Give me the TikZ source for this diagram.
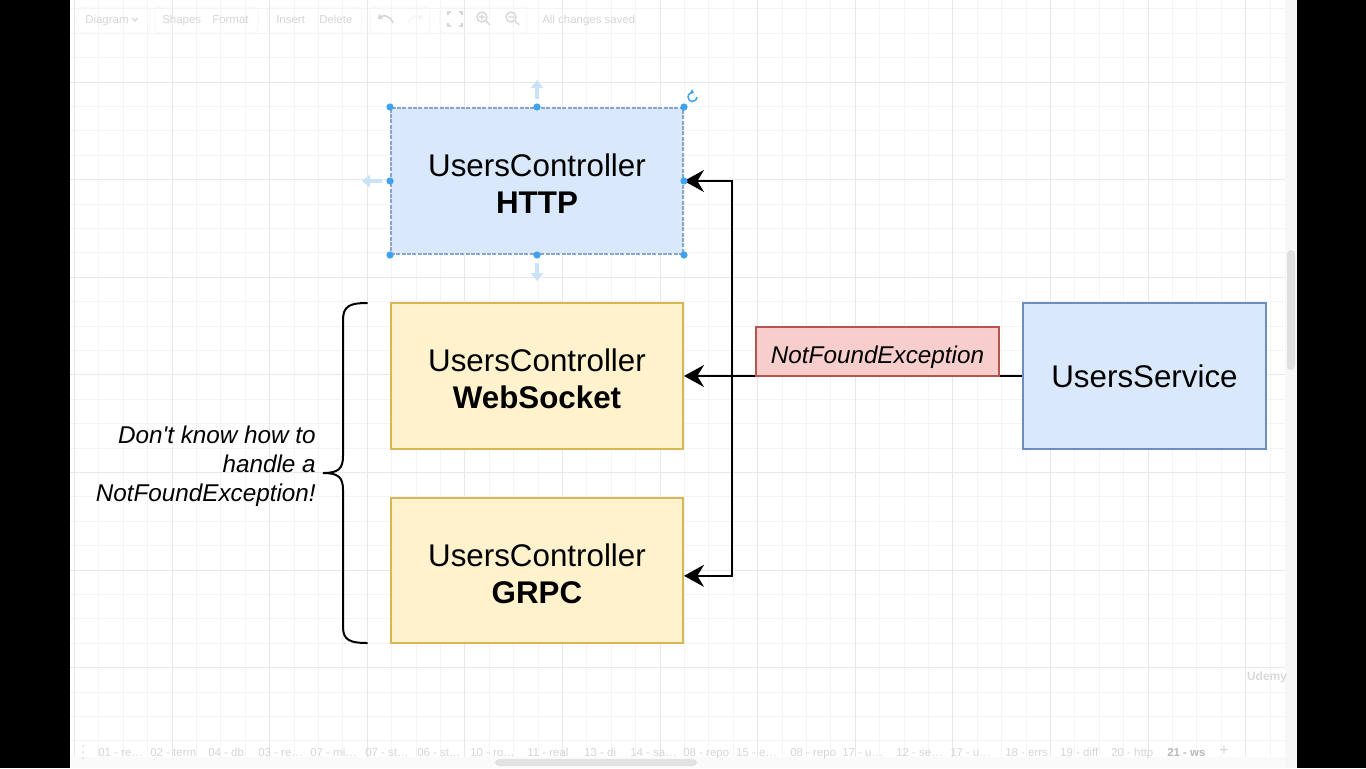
\documentclass[tikz,border=0pt]{standalone}
\usepackage{fontspec}
\setmainfont{Liberation Sans}
\usetikzlibrary{arrows.meta,calc}
\definecolor{blueF}{HTML}{DAE8FC}
\definecolor{blueD}{HTML}{6C8EBF}
\definecolor{yellowF}{HTML}{FFF2CC}
\definecolor{yellowD}{HTML}{D6B656}
\definecolor{redF}{HTML}{F8CECC}
\definecolor{redD}{HTML}{B85450}
\definecolor{selblue}{HTML}{3FA2EC}
\definecolor{hintblue}{HTML}{C9E2F8}
\definecolor{gridminor}{HTML}{F4F4F4}
\definecolor{gridmajor}{HTML}{E8E8E8}
\definecolor{uitext}{HTML}{D6D6D6}
\newcommand{\topgap}[1]{\rule{0pt}{#1}}
\begin{document}
\begin{tikzpicture}[x=0.75pt,y=-0.75pt,
  box/.style={draw, line width=1.5pt, minimum width=219pt, minimum height=109.5pt,
    align=center, font=\fontsize{23.5pt}{27.75pt}\selectfont, inner sep=0pt},
  ctrlbox/.style={box, fill=yellowF, draw=yellowD},
  svcbox/.style={box, fill=blueF, draw=blueD},
  excbox/.style={draw=redD, fill=redF, line width=1.5pt, minimum width=182.25pt,
    minimum height=36.75pt, inner sep=0pt, font=\fontsize{18.2pt}{21.75pt}\selectfont\itshape},
  note/.style={align=right, inner sep=0pt, font=\fontsize{18.2pt}{21.75pt}\selectfont\itshape},
  conn/.style={draw=black, line width=1.5pt},
  arr/.style={-{Stealth[length=15pt, width=16.5pt, inset=5pt]}},
  handle/.style={fill=selblue, draw=none},
  hint/.style={draw=hintblue, line width=2.5pt, -{Triangle[length=6pt,width=9pt]}},
  ui/.style={text=uitext, font=\fontsize{8.6pt}{10pt}\selectfont, inner sep=0pt},
  uibox/.style={draw=gridminor, rounded corners=3pt, line width=0.6pt}
]
\useasboundingbox (0,0) rectangle (1366,768);
% frame
\fill[black] (0,0) rectangle (70,768);
\fill[black] (1297,0) rectangle (1366,768);
\fill[white] (70,0) rectangle (1297,768);
% grid
\begin{scope}
\clip (70,0) rectangle (1285,768);
\foreach \i in {-1,...,50} {
  \draw[gridminor, line width=0.6pt] ({74.4+24.4*\i},0) -- ({74.4+24.4*\i},768);
}
\foreach \i in {-4,...,28} {
  \draw[gridminor, line width=0.6pt] (70,{82+24.4*\i}) -- (1285,{82+24.4*\i});
}
\foreach \i in {0,...,12} {
  \draw[gridmajor, line width=0.7pt] ({74.4+97.6*\i},0) -- ({74.4+97.6*\i},768);
}
\foreach \i in {-1,...,7} {
  \draw[gridmajor, line width=0.7pt] (70,{82+97.6*\i}) -- (1285,{82+97.6*\i});
}
\end{scope}
% right scroll track
\fill[gray!6] (1285,0) rectangle (1297,768);
\fill[gray!25, rounded corners=3pt] (1287,250) rectangle (1295,370);
% toolbar
\draw[uibox] (78,7) rectangle (150,33);
\draw[uibox] (155,7) rectangle (258,33);
\draw[uibox] (268,7) rectangle (362,33);
\draw[uibox] (370,7) rectangle (430,33);
\draw[uibox] (440,7) rectangle (527,33);
\node[ui, anchor=base west] (tDiagram) at (85,23.5) {Diagram};
\draw[uitext, line width=0.8pt] (132,18) -- (135,21) -- (138,18);
\node[ui, anchor=base west] (tShapes) at (162,23.5) {Shapes};
\node[ui, anchor=base west] (tFormat) at (212,23.5) {Format};
\node[ui, anchor=base west] (tInsert) at (276,23.5) {Insert};
\node[ui, anchor=base west] (tDelete) at (319,23.5) {Delete};
\node[ui, anchor=base west] (tSaved) at (542,23.5) {All changes saved};
\draw[uitext, line width=1.2pt, -{Triangle[length=3pt,width=5pt]}] (393,23) .. controls (390,15) and (383,15) .. (378,19);
\draw[gray!8, line width=1.2pt, -{Triangle[length=3pt,width=5pt]}] (408,23) .. controls (411,15) and (418,15) .. (423,19);
\draw[uitext, line width=1pt] (448,15) -- (448,12) -- (451,12) (459,12) -- (462,12) -- (462,15) (462,23) -- (462,26) -- (459,26) (451,26) -- (448,26) -- (448,23);
\draw[uitext, line width=1pt] (482,17) circle (5) (486,21) -- (490,25) (479,17) -- (485,17) (482,14) -- (482,20);
\draw[uitext, line width=1pt] (511,17) circle (5) (515,21) -- (519,25) (508,17) -- (514,17);
% bottom tab bar
\fill[gray!4] (70,757) rectangle (1285,768);
\foreach \x/\t in {98/{01 - re…}, 150/{02 - term}, 208/{04 - db}, 258/{03 - re…}, 310/{07 - mi…}, 365/{07 - st…}, 417/{06 - st…}, 470/{10 - ro…}, 527/{11 - real}, 584/{13 - di}, 630/{14 - sa…}, 683/{08 - repo}, 736/{15 - e…}, 790/{08 - repo}, 842/{17 - u…}, 896/{12 - se…}, 950/{17 - u…}, 1005/{18 - errs}, 1060/{19 - diff}, 1111/{20 - http}} {
  \node[ui, anchor=base west] at (\x,756) {\t};
}
\node[ui, anchor=base west, text=gray!55, font=\fontsize{8.6pt}{10pt}\selectfont\bfseries] (tws) at (1167,756) {21 - ws};
\node[ui, font=\fontsize{12pt}{12pt}\selectfont] (tplus) at (1224,751) {+};
\fill[uitext] (83,746) circle (1) (83,752) circle (1) (83,758) circle (1);
\fill[gray!22, rounded corners=3pt] (495,759) rectangle (697,766);
\node[ui, text=gray!30, font=\fontsize{9pt}{10pt}\selectfont\bfseries] (udemy) at (1267,677) {Udemy};
% nodes
\node[svcbox, draw=blueD!80, dashed, dash pattern=on 3pt off 1pt] (http) at (537,181) {\topgap{21.6pt}UsersController\\\textbf{HTTP}};
\node[ctrlbox] (ws) at (537,376) {\topgap{21.6pt}UsersController\\\textbf{WebSocket}};
\node[ctrlbox, minimum height=108.75pt] (grpc) at (537,570.5) {\topgap{21.6pt}UsersController\\\textbf{GRPC}};
\node[svcbox, minimum width=182.25pt] (svc) at (1144.5,376) {UsersService};
\node[excbox] (exc) at (877.5,351.5) {\topgap{22.3pt}NotFoundException};
\node[note, anchor=east] (note) at (316,466.5) {Don\textquotesingle t know how to\\handle a\\NotFoundException!};
% connectors
\coordinate (j) at (732,376);
\draw[conn] (svc.west) -- (exc.east |- svc.west);
\draw[conn, arr] (exc.west |- ws.east) -- (ws.east);
\draw[conn, arr] (j) |- (http.east);
\draw[conn, arr] (j) |- ([yshift=-4pt]grpc.east);
% brace
\draw[line width=1.5pt, line cap=round] (367,303) .. controls (350,303) and (343,306) .. (343,320)
  -- (343,456) .. controls (343,469) and (338,473) .. (323,473)
  .. controls (338,473) and (343,477) .. (343,490)
  -- (343,627) .. controls (343,640) and (350,643) .. (367,643);
% selection handles on http
\draw[hint] (537,99) -- (537,80);
\draw[hint] (537,263) -- (537,281);
\draw[hint] (382,181) -- (362,181);
\foreach \p in {http.north west, http.north, http.north east, http.west, http.east, http.south west, http.south, http.south east} {
  \fill[handle] (\p) circle (3.6);
}
\draw[selblue, line width=1.1pt, -{Triangle[length=2.5pt,width=4pt]}] (697,97) arc[start angle=0, end angle=290, radius=4.5];
\end{tikzpicture}
\end{document}
